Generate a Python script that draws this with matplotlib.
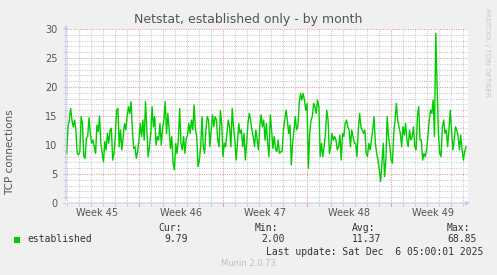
import numpy as np
import matplotlib
matplotlib.use("Agg")
import matplotlib.pyplot as plt
from matplotlib.patches import Rectangle
from matplotlib.transforms import blended_transform_factory

# ---------------- data ----------------
title = "Netstat, established only - by month"
ylabel = "TCP connections"
series_name = "established"
week_labels = ["Week 45", "Week 46", "Week 47", "Week 48", "Week 49"]
y_ticks = [0, 5, 10, 15, 20, 25, 30]
stats_labels = ["Cur:", "Min:", "Avg:", "Max:"]
stats_values = ["9.79", "2.00", "11.37", "68.85"]
last_update = "Last update: Sat Dec  6 05:00:01 2025"
footer = "Munin 2.0.73"

# time span (days since start of week 45) covered by the samples
t_start = 0.975
t_end = 34.25

established_part1 = [
    8.55, 13.15, 14.3, 16.3, 14.3, 13.15, 14.3, 12.6, 8.55, 8.3, 8.85, 14.9, 13.7, 8.0, 7.7,
    11.15, 11.45, 14.7, 12.0, 10.3, 10.85, 9.7, 8.55, 13.45, 12.3, 15.0, 10.3, 8.55, 7.1, 10.6,
    9.15, 12.0, 10.3, 12.6, 12.9, 7.4, 8.55, 11.45, 16.0, 16.3, 9.7, 12.6, 9.15, 11.45, 13.7,
    12.6, 14.9, 16.6, 15.45, 17.47, 12.6, 9.4, 9.7, 7.7, 8.85, 10.85, 13.7, 11.45, 14.3, 10.85,
    17.47, 12.6, 8.0, 9.7, 12.0, 16.6, 13.15, 14.9, 10.0, 11.45, 10.85, 13.7, 10.0, 12.9, 14.3,
    17.47, 12.0, 15.45, 12.6, 9.4, 11.45, 6.85, 5.7, 10.3, 8.55, 10.85, 16.3, 10.3, 9.15, 11.45,
    8.55, 11.15, 11.7, 13.7, 12.0, 14.3, 12.6, 16.9, 12.6, 11.45, 6.25, 7.4, 9.7, 14.9, 9.7,
    8.55, 12.6, 14.9, 14.3, 9.7, 12.6, 15.2, 13.15, 14.9, 14.3, 10.85, 9.7, 16.0, 13.7, 8.0,
    10.3, 9.7, 12.0, 14.3, 13.15, 9.7, 16.3, 13.15, 10.85, 7.4, 10.3, 13.7, 12.0, 12.6, 9.7,
    12.0, 7.4, 10.3, 13.7, 15.45, 14.3, 12.6, 11.45, 9.7, 12.6, 10.85, 9.15, 13.15, 15.2, 13.15,
    14.3, 10.85, 13.7, 10.3, 8.0, 15.2, 12.6, 9.4, 11.45, 9.4, 8.85, 10.85,
]
established_part2 = [
    8.55, 8.85, 8.85, 12.6, 14.3, 16.0, 14.3, 12.0, 13.45, 6.55, 10.3, 12.6, 14.9, 12.6, 13.15,
    17.18, 18.9, 17.76, 18.9, 17.76, 16.0, 17.18, 6.0, 12.0, 14.3, 14.9, 17.18, 16.6, 15.45, 17.76,
    16.6, 8.0, 10.3, 8.0, 9.7, 12.0, 16.0, 14.3, 8.55, 9.7, 12.0, 10.85, 11.45, 10.85, 9.15,
    9.7, 11.7, 7.4, 12.0, 11.45, 13.7, 14.3, 13.15, 12.6, 9.7, 12.6, 11.45, 10.3, 10.3, 8.0,
    12.6, 15.45, 13.15, 12.6, 12.0, 12.6, 8.55, 8.0, 10.3, 9.15, 10.85, 12.6, 14.9, 10.3, 8.55,
    7.4, 5.7, 3.7, 6.85, 10.3, 4.55, 7.4, 14.9, 11.45, 9.7, 7.4, 6.85, 12.0, 14.3, 17.18,
    14.3, 13.15, 12.0, 9.7, 13.15, 11.7, 13.7, 10.85, 9.7, 12.6, 10.85, 11.45, 13.15, 9.7, 9.15,
    14.9, 16.6, 10.85, 10.85, 7.4, 8.55, 8.0, 9.15, 11.45, 14.3, 16.0, 15.45, 17.76, 11.45, 29.25,
    20.06, 12.0, 8.55, 8.0, 13.15, 14.3, 12.0, 12.6, 9.7, 12.6, 16.0, 12.6, 9.15, 10.85, 13.15,
    12.6, 11.45, 9.15, 11.7, 9.15, 7.4, 8.85, 9.7,
]
established = established_part1 + established_part2

# ---------------- styling constants ----------------
W, H = 497, 275
BG = "#F0F0F0"
TXT = "#555555"
GRID = "#C8C8C8"
MGRID = "#DE9A9A"
AXIS = "#C8C8F0"
LINE = "#00CC00"

def fx(px):
    return px / W

def fy(py):
    return 1 - py / H

fig = plt.figure(figsize=(W / 100, H / 100), dpi=100, facecolor=BG)
left_px, right_px, top_px, bot_px = 66, 468, 29, 203
ax = fig.add_axes([fx(left_px), fy(bot_px), (right_px - left_px) / W, (bot_px - top_px) / H])
ax.set_facecolor("white")

x0 = (left_px - 55) / 12.0
x1 = (right_px - 55) / 12.0
ax.set_xlim(x0, x1)
ax.set_ylim(0, 30)

for s in ax.spines.values():
    s.set_visible(False)

# grid
for d in range(1, 35):
    is_major = d % 7 == 0
    ax.axvline(d, color=MGRID if is_major else GRID, lw=0.75, ls=(0, (1, 1.2)), zorder=1)
for v in range(1, 31):
    is_major = v % 5 == 0
    ax.axhline(v, color=MGRID if is_major else GRID, lw=0.75, ls=(0, (1, 1.2)), zorder=1 if not is_major else 1.5)

# data line
t = np.linspace(t_start, t_end, len(established))
ax.plot(t, established, color=LINE, lw=1.0, zorder=3)

# ticks
ax.set_yticks(y_ticks)
ax.set_yticklabels([str(v) for v in y_ticks], fontsize=7, color=TXT)
ax.set_yticks(range(0, 31), minor=True)
ax.tick_params(axis="y", which="both", length=2, color=AXIS, pad=4)
ax.set_xticks([d for d in range(1, 35)], minor=True)
ax.set_xticks([7, 14, 21, 28])
ax.set_xticklabels([])
ax.tick_params(axis="x", which="minor", length=2, color=GRID)
ax.tick_params(axis="x", which="major", length=2, color=MGRID)

trans = blended_transform_factory(ax.transData, fig.transFigure)
for i, lab in enumerate(week_labels):
    ax.text(3.5 + 7 * i, fy(213), lab, transform=trans, ha="center", va="center",
            fontsize=7, color=TXT, clip_on=False)

# axis lines with arrows
ax.annotate("", xy=(fx(473), fy(bot_px)), xytext=(fx(left_px), fy(bot_px)), xycoords="figure fraction",
            arrowprops=dict(arrowstyle="-|>", color=AXIS, lw=0.8, mutation_scale=6), zorder=5)
ax.annotate("", xy=(fx(left_px), fy(22)), xytext=(fx(left_px), fy(bot_px)), xycoords="figure fraction",
            arrowprops=dict(arrowstyle="-|>", color=AXIS, lw=0.8, mutation_scale=6), zorder=5)

# titles
fig.text(fx(248), fy(19), title, ha="center", va="center", fontsize=9, color=TXT)
fig.text(fx(10), fy(152), ylabel, ha="center", va="center", rotation=90, fontsize=7.5, color=TXT)
fig.text(fx(487), fy(8), "RRDTOOL / TOBI OETIKER", ha="center", va="top", rotation=270,
         fontsize=5, color="#C8C8C8")

# legend
fig.patches.append(Rectangle((fx(14), fy(243)), 6 / W, 6 / H, transform=fig.transFigure,
                             facecolor=LINE, edgecolor="none"))
mono = "DejaVu Sans Mono"
fig.text(fx(27), fy(239), series_name, ha="left", va="center", fontsize=7, family=mono, color="#333333")
label_x = [182, 278, 375, 470]
value_x = [188, 285, 381, 477]
for lx, vx, lab, val in zip(label_x, value_x, stats_labels, stats_values):
    fig.text(fx(lx), fy(228), lab, ha="right", va="center", fontsize=7, family=mono, color="#333333")
    fig.text(fx(vx), fy(239), val, ha="right", va="center", fontsize=7, family=mono, color="#333333")
fig.text(fx(483), fy(252), last_update, ha="right", va="center", fontsize=7, family=mono, color="#333333")
fig.text(fx(248), fy(264), footer, ha="center", va="center", fontsize=6, color="#C0C0C0")

fig.savefig("out.png", dpi=100, facecolor=BG)
